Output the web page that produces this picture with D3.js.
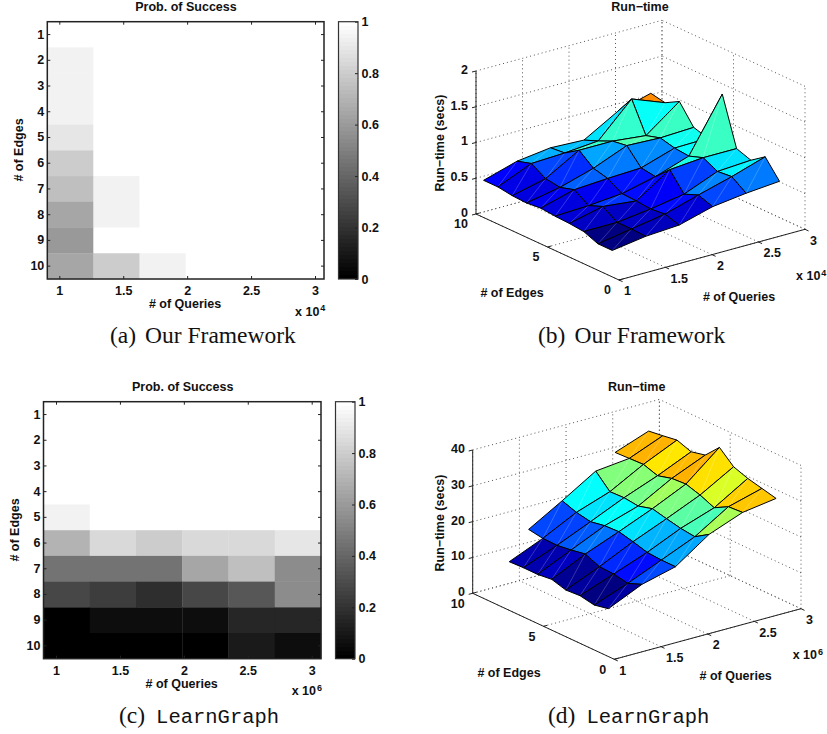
<!DOCTYPE html>
<html lang="en">
<head>
<meta charset="utf-8">
<title>Prob. of Success and Run-time</title>
<script src="https://cdn.jsdelivr.net/npm/d3@7"></script>
<style>
  html, body { margin: 0; padding: 0; background: #fff; }
  svg { display: block; }
  text { font-family: "Liberation Sans", Arial, sans-serif; font-weight: bold; font-size: 12.5px; fill: #111; }
  .caption, .caption tspan { font-family: "Liberation Serif", serif; font-weight: normal; font-size: 23.5px; fill: #111; }
  .caption .mono { font-family: "Liberation Mono", monospace; font-size: 20.5px; }
  .domain { display: none; }
  .tick line { stroke: #222; }
</style>
</head>
<body>
<script>
var w = 827, h = 734;

// data
var queries = [1, 1.4, 1.8, 2.2, 2.6, 3];
var edges = [1, 2, 3, 4, 5, 6, 7, 8, 9, 10];
var queryTicks = [1, 1.5, 2, 2.5, 3];
var edgeTicks3d = [0, 5, 10];
var barTicks = [0, 0.2, 0.4, 0.6, 0.8, 1];
var runTicksA = [0, 0.5, 1, 1.5, 2];
var runTicksB = [0, 10, 20, 30, 40];

// rows are # of edges 1..10, columns are # of queries
var probA = [
  [1, 1, 1, 1, 1, 1],
  [0.95, 1, 1, 1, 1, 1],
  [0.95, 1, 1, 1, 1, 1],
  [0.95, 1, 1, 1, 1, 1],
  [0.9, 1, 1, 1, 1, 1],
  [0.8, 1, 1, 1, 1, 1],
  [0.75, 0.95, 1, 1, 1, 1],
  [0.65, 0.95, 1, 1, 1, 1],
  [0.6, 1, 1, 1, 1, 1],
  [0.65, 0.8, 0.95, 1, 1, 1]
];
var probB = [
  [1, 1, 1, 1, 1, 1],
  [1, 1, 1, 1, 1, 1],
  [1, 1, 1, 1, 1, 1],
  [1, 1, 1, 1, 1, 1],
  [0.95, 1, 1, 1, 1, 1],
  [0.7, 0.85, 0.8, 0.85, 0.85, 0.9],
  [0.45, 0.45, 0.45, 0.65, 0.75, 0.55],
  [0.28, 0.24, 0.18, 0.28, 0.34, 0.55],
  [0, 0.05, 0.05, 0.05, 0.15, 0.15],
  [0, 0, 0, 0, 0.1, 0.05]
];

// one list per query column, edges 1..10. null = no run (prob was 0)
var runA = [
  [0.37, 0.37, 0.45, 0.47, 0.48, 0.50, 0.48, 0.49, 0.52, 0.52],
  [0.44, 0.45, 0.45, 0.58, 0.50, 0.63, 0.57, 0.60, 0.72, 0.66],
  [0.47, 0.53, 0.51, 0.53, 0.54, 0.66, 0.71, 0.87, 0.74, 0.72],
  [0.60, 0.67, 0.59, 0.84, 0.65, 0.68, 0.90, 0.87, 0.78, 0.70],
  [0.66, 0.80, 0.78, 0.88, 0.81, 0.83, 0.88, 0.82, 1.24, 0.97],
  [0.70, 0.95, 0.81, 0.88, 1.55, 0.84, 0.90, 1.17, 1.06, 1.10]
];
var runB = [
  [13.35, 12.53, 13.29, 13.03, 14.17, 13.72, 13.74, 13.57, null, null],
  [17.6, 16.04, 16.8, 17.0, 18.7, 17.97, 17.43, 17.54, 18.21, null],
  [19.99, 20.0, 20.3, 21.44, 22.39, 22.22, 21.5, 22.26, 23.67, null],
  [26.47, 23.98, 24.47, 25.32, 26.27, 25.17, 25.66, 25.49, 29.41, null],
  [30.07, 29.81, 27.69, 29.39, 30.61, 30.35, 29.26, 30.58, 30.41, 30.24],
  [31.44, 32.39, 33.34, 34.75, 38.31, 34.33, 33.41, 34.83, 34.2, 33.66]
];

var svg = d3.select("body").append("svg").attr("width", w).attr("height", h);
var gray = d3.scaleLinear().domain([0, 1]).range(["#000", "#fff"]);

function jet(v) {
  var c = function(d) { return Math.round(255 * Math.max(0, Math.min(1, 1.5 - Math.abs(4 * v - d)))); };
  return "rgb(" + c(3) + "," + c(2) + "," + c(1) + ")";
}

function label(x, y, s, anchor, rotate) {
  var t = svg.append("text").attr("text-anchor", anchor || "middle").attr("dy", "0.35em").text(s);
  if (rotate) t.attr("transform", "translate(" + x + "," + y + ") rotate(-90)");
  else t.attr("x", x).attr("y", y);
  return t;
}

function power(x, y, exp) {
  var t = svg.append("text").attr("x", x).attr("y", y).attr("dy", "0.35em").text("x 10");
  t.append("tspan").attr("dx", 1).attr("dy", "-0.5em").style("font-size", "9px").text(exp);
}

function caption(x, y, tag, name, mono) {
  var t = svg.append("text").attr("class", "caption").attr("x", x).attr("y", y);
  t.append("tspan").text(tag);
  t.append("tspan").attr("class", mono ? "mono" : null).attr("dx", mono ? 11 : 9).text(name);
}

// heat map with its colour bar
function heatmap(p, values) {
  var x = d3.scaleLinear().domain([1, 3]).range([p.x1, p.x3]);
  var col = d3.scaleBand().domain(d3.range(queries.length)).range([p.left, p.right]);
  var row = d3.scaleBand().domain(edges).range([p.top, p.bottom]);

  var g = svg.append("g");
  values.forEach(function(r, j) {
    g.selectAll(null).data(r).enter().append("rect")
      .attr("x", function(d, i) { return col(i); })
      .attr("y", row(edges[j]))
      .attr("width", col.bandwidth() + 0.3)
      .attr("height", row.bandwidth() + 0.3)
      .attr("fill", function(d) { return gray(d); });
  });

  g.append("g").attr("transform", "translate(0," + p.bottom + ")")
    .call(d3.axisBottom(x).tickValues(queryTicks).tickSize(-3).tickPadding(7.6).tickFormat(d3.format("")));
  g.append("g").attr("transform", "translate(0," + p.top + ")")
    .call(d3.axisTop(x).tickValues(queryTicks).tickSize(-3).tickFormat(""));
  g.append("g").attr("transform", "translate(" + p.left + ",0)")
    .call(d3.axisLeft(row).tickSize(-3).tickPadding(3));
  g.append("g").attr("transform", "translate(" + p.right + ",0)")
    .call(d3.axisRight(row).tickSize(-3).tickFormat(""));
  g.append("rect").attr("x", p.left).attr("y", p.top)
    .attr("width", p.right - p.left).attr("height", p.bottom - p.top)
    .attr("fill", "none").attr("stroke", "#222").attr("stroke-width", 1.5);

  // colour bar
  var barY = d3.scaleLinear().domain([0, 1]).range([p.bottom, p.top]);
  var levels = d3.range(64);
  g.selectAll(null).data(levels).enter().append("rect")
    .attr("x", p.barLeft)
    .attr("width", p.barRight - p.barLeft)
    .attr("y", function(d) { return barY((d + 1) / 64); })
    .attr("height", (p.bottom - p.top) / 64 + 0.4)
    .attr("shape-rendering", "crispEdges")
    .attr("fill", function(d) { return gray(d / 63); });
  g.append("g").attr("transform", "translate(" + p.barRight + ",0)")
    .call(d3.axisRight(barY).tickValues(barTicks).tickSize(-3).tickPadding(3.5).tickFormat(d3.format("")));
  g.append("rect").attr("x", p.barLeft).attr("y", p.top)
    .attr("width", p.barRight - p.barLeft).attr("height", p.bottom - p.top)
    .attr("fill", "none").attr("stroke", "#333").attr("stroke-width", 1.2);

  label(p.titleX, p.titleY, "Prob. of Success");
  label(p.xLabelX, p.xLabelY, "# of Queries");
  label(p.yLabelX, p.yLabelY, "# of Edges", "middle", true);
  power(p.powX, p.powY, p.exp);
}

// surface drawn with a plain parallel projection of the box
function surface(p, zs, zTicks, zMax) {
  var qx = d3.scaleLinear().domain([1, 3]).range([0, p.qv[0]]);
  var qy = d3.scaleLinear().domain([1, 3]).range([0, p.qv[1]]);
  var ex = d3.scaleLinear().domain([0, 10]).range([0, p.ev[0]]);
  var ey = d3.scaleLinear().domain([0, 10]).range([0, p.ev[1]]);
  var zy = d3.scaleLinear().domain([0, zMax]).range([0, -p.zh]);
  function proj(q, e, z) {
    return [p.ox + qx(q) + ex(e), p.oy + qy(q) + ey(e) + zy(z)];
  }
  // grid vertices sit a little off the tick marks in the original
  var gridQ = d3.scaleLinear().domain([1, 3]).range([1, p.qEnd]);
  var gridE = d3.scaleLinear().domain([1, 10]).range([p.eStart, p.eStart + 9]);
  function vert(i, j) { return proj(gridQ(queries[i]), gridE(edges[j]), zs[i][j]); }

  var path = d3.line();
  var g = svg.append("g");
  function seg(a, b, cls) {
    g.append("path").attr("d", path([a, b])).attr("fill", "none")
      .attr("stroke", cls === "axis" ? "#222" : "#555")
      .attr("stroke-width", 1)
      .attr("stroke-dasharray", cls === "axis" ? null : "1,3");
  }

  // dotted floor and back walls
  queryTicks.forEach(function(q) {
    seg(proj(q, 0, 0), proj(q, 10, 0));
    seg(proj(q, 10, 0), proj(q, 10, zMax));
  });
  edgeTicks3d.forEach(function(e) {
    seg(proj(1, e, 0), proj(3, e, 0));
    seg(proj(3, e, 0), proj(3, e, zMax));
  });
  zTicks.forEach(function(z) {
    seg(proj(1, 10, z), proj(3, 10, z));
    seg(proj(3, 0, z), proj(3, 10, z));
  });

  // solid axes and ticks
  seg(proj(1, 10, 0), proj(1, 10, zMax), "axis");
  seg(proj(1, 10, 0), proj(1, 0, 0), "axis");
  seg(proj(1, 0, 0), proj(3, 0, 0), "axis");
  zTicks.forEach(function(z) {
    var a = proj(1, 10, z);
    seg(a, [a[0] - 4, a[1] + 1], "axis");
    label(p.zLabelX, a[1] - 1.5, d3.format("")(z), "end");
  });
  queryTicks.forEach(function(q) {
    var a = proj(q, 0, 0);
    seg(a, proj(q, -0.25, 0), "axis");
    label(a[0] + 5, a[1] + 11, d3.format("")(q), "start");
  });
  edgeTicks3d.forEach(function(e) {
    var a = proj(1, e, 0);
    seg(a, proj(1.04, e, 0), "axis");
    label(a[0] - 8, a[1] + 10, d3.format("")(e), "end");
  });

  // facets back to front, colour from the lowest-index corner
  var shown = d3.merge(zs).filter(function(d) { return d !== null; });
  var jetScale = d3.scaleLinear().domain(d3.extent(shown)).range([0, 1]);
  for (var j = edges.length - 2; j >= 0; j--) {
    for (var i = queries.length - 2; i >= 0; i--) {
      if (zs[i][j] === null || zs[i + 1][j] === null || zs[i][j + 1] === null || zs[i + 1][j + 1] === null) continue;
      var a = vert(i, j), b = vert(i + 1, j), c = vert(i + 1, j + 1), d = vert(i, j + 1);
      var fill = jet(jetScale(zs[i][j]));
      g.append("path").attr("d", path([a, b, c, d]) + "Z")
        .attr("fill", fill).attr("stroke", "none");
      g.append("path").attr("d", path([a, c]))
        .attr("stroke", "rgba(255,255,255,0.35)").attr("stroke-width", 0.6).attr("fill", "none");
      g.append("path").attr("d", path([a, b, c, d]) + "Z")
        .attr("fill", "none").attr("stroke", "#000").attr("stroke-width", 1).attr("stroke-linejoin", "round");
    }
  }

  label(p.titleX, p.titleY, "Run\u2212time");
  label(p.zTitleX, p.zTitleY, "Run\u2212time (secs)", "middle", true);
  label(p.eLabelX, p.eLabelY, "# of Edges");
  label(p.qLabelX, p.qLabelY, "# of Queries");
  power(p.powX, p.powY, p.exp);
}

heatmap({
  left: 47.3, right: 324, top: 21.7, bottom: 279, x1: 59.3, x3: 315,
  barLeft: 338.5, barRight: 358,
  titleX: 186, titleY: 7, xLabelX: 185, xLabelY: 304, yLabelX: 19, yLabelY: 150,
  powX: 295, powY: 311.5, exp: "4"
}, probA);

heatmap({
  left: 43.5, right: 321, top: 401.7, bottom: 658.7, x1: 56, x3: 311.7,
  barLeft: 335.5, barRight: 355,
  titleX: 182.7, titleY: 386.7, xLabelX: 181.7, xLabelY: 683.5, yLabelX: 15, yLabelY: 530,
  powX: 291.7, powY: 691, exp: "6"
}, probB);

surface({
  ox: 619, oy: 280, qv: [186, -50.7], ev: [-143, -66], zh: 143, qEnd: 2.798, eStart: 0.47,
  zLabelX: 468,
  titleX: 640, titleY: 7, zTitleX: 440, zTitleY: 143,
  eLabelX: 512, eLabelY: 293, qLabelX: 739, qLabelY: 297,
  powX: 796, powY: 276, exp: "4"
}, runA, runTicksA, 2);

surface({
  ox: 614.3, oy: 659.3, qv: [186.7, -50.6], ev: [-141.6, -66], zh: 143.3, qEnd: 2.797, eStart: 0.42,
  zLabelX: 465,
  titleX: 636.7, titleY: 386.7, zTitleX: 440, zTitleY: 523,
  eLabelX: 509, eLabelY: 672.3, qLabelX: 735.7, qLabelY: 676,
  powX: 792.7, powY: 655, exp: "6"
}, runB, runTicksB, 40);

caption(110, 343, "(a)", "Our Framework");
caption(538, 343, "(b)", "Our Framework");
caption(119, 722.7, "(c)", "LearnGraph", true);
caption(548, 722.7, "(d)", "LearnGraph", true);
</script>
</body>
</html>
